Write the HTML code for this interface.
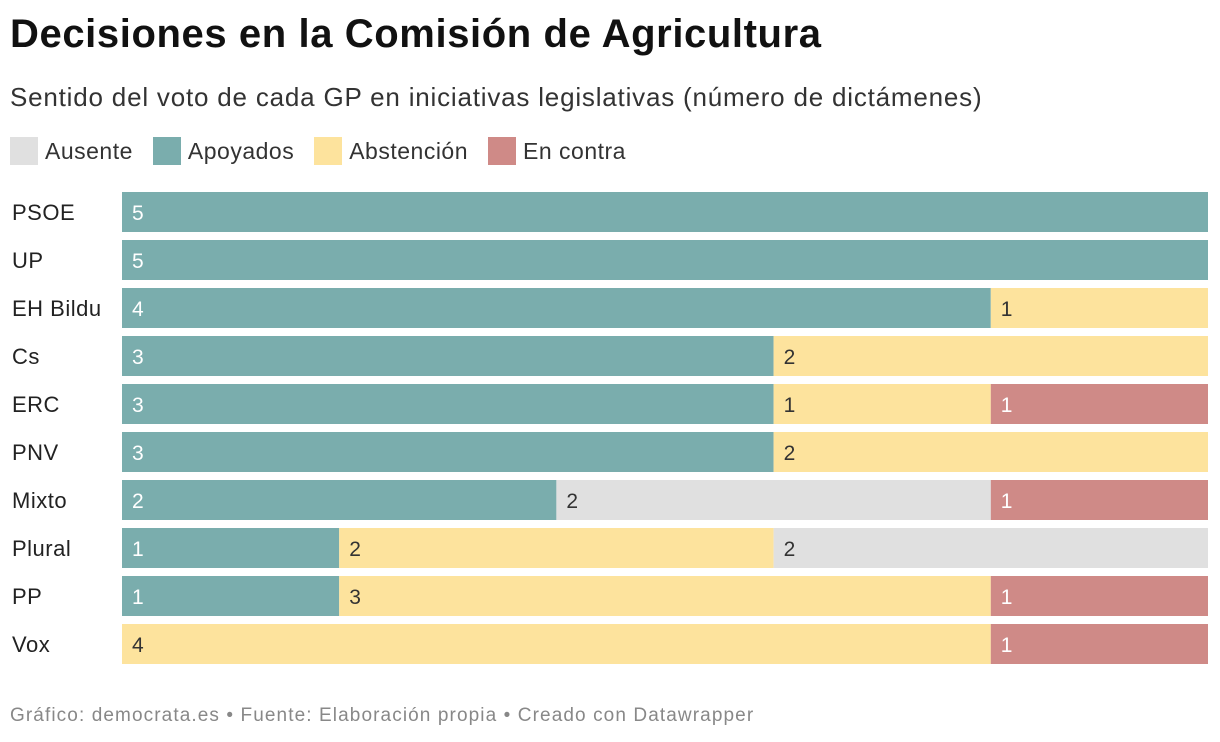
<!DOCTYPE html>
<html><head><meta charset="utf-8">
<style>
body{margin:0;width:1220px;height:742px;background:#fff;font-family:"Liberation Sans",Arial,sans-serif;color:#222;position:relative;overflow:hidden}
.t{position:absolute;left:10px;top:12px;font-size:40px;font-weight:bold;letter-spacing:0.6px;color:#111}
.s{position:absolute;left:10px;top:82px;font-size:26px;color:#333;letter-spacing:0.8px}
.leg{position:absolute;top:137px;left:10px;display:flex;font-size:23px;color:#333;letter-spacing:0.5px}
.li{display:flex;align-items:center;margin-right:20px}
.sw{width:28px;height:28px;margin-right:7px}
.f{position:absolute;left:10px;top:705px;font-size:19px;color:#888;letter-spacing:1.1px}
</style></head><body>
<div class="t">Decisiones en la Comisión de Agricultura</div>
<div class="s">Sentido del voto de cada GP en iniciativas legislativas (número de dictámenes)</div>
<div class="leg">
<div class="li"><div class="sw" style="background:#e0e0e0"></div>Ausente</div>
<div class="li"><div class="sw" style="background:#7aadad"></div>Apoyados</div>
<div class="li"><div class="sw" style="background:#fde39d"></div>Abstención</div>
<div class="li"><div class="sw" style="background:#cf8a87"></div>En contra</div>
</div>
<svg id="c" width="1220" height="742" style="position:absolute;left:0;top:0"></svg>
<div class="f">Gráfico: democrata.es • Fuente: Elaboración propia • Creado con Datawrapper</div>
<script>
const parties=["PSOE","UP","EH Bildu","Cs","ERC","PNV","Mixto","Plural","PP","Vox"];
const apoyados=[5,5,4,3,3,3,2,1,1,0];
const abstencion=[0,0,1,2,1,2,0,2,3,4];
const ausente=[0,0,0,0,0,0,2,2,0,0];
const enContra=[0,0,0,0,1,0,1,0,1,1];
const series=[["apoyados",apoyados,"#7aadad","#fff"],["abstencion",abstencion,"#fde39d","#333"],["ausente",ausente,"#e0e0e0","#333"],["en-contra",enContra,"#cf8a87","#fff"]];
const svg=document.getElementById('c');const NS="http://www.w3.org/2000/svg";
const x0=122,x1=1208,y0=192,pitch=48,bh=40;
const total=i=>series.reduce((a,s)=>a+s[1][i],0);
parties.forEach((p,i)=>{
 const y=y0+i*pitch;
 const lb=document.createElementNS(NS,'text');
 
 
 lb.setAttribute('x',12);lb.setAttribute('y',y+bh/2+8);lb.setAttribute('font-size','22');lb.setAttribute('letter-spacing','0.5');lb.setAttribute('fill','#222');lb.textContent=p;svg.appendChild(lb);
 const tot=total(i);const sc=(x1-x0)/tot;let cx=x0;
 series.forEach(s=>{const v=s[1][i];if(!v)return;const w=v*sc;
  const r=document.createElementNS(NS,'rect');
  
  
  r.setAttribute('x',cx);r.setAttribute('y',y);r.setAttribute('width',w);r.setAttribute('height',bh);r.setAttribute('fill',s[2]);svg.appendChild(r);
  const t=document.createElementNS(NS,'text');
  
  
  t.setAttribute('x',cx+10);t.setAttribute('y',y+bh/2+8);t.setAttribute('font-size','21');t.setAttribute('fill',s[3]);t.textContent=v;svg.appendChild(t);
  cx+=w;});
});
</script>
</body></html>
